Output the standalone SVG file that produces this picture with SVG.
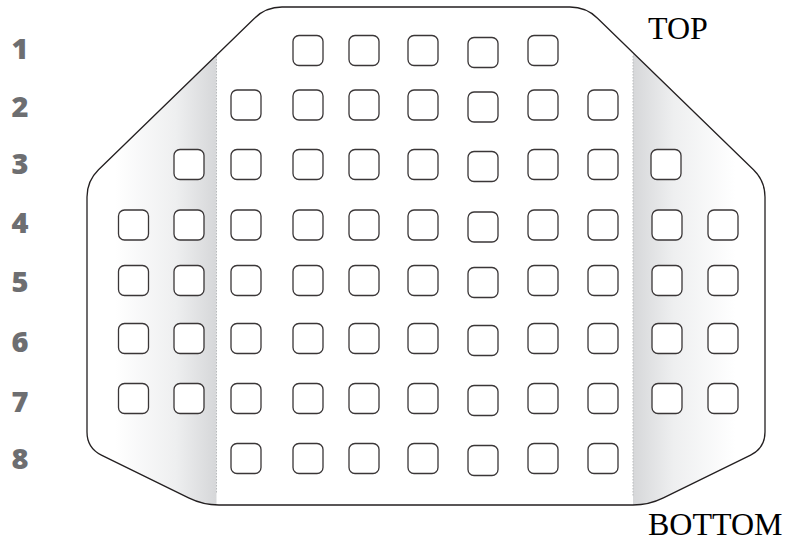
<svg xmlns="http://www.w3.org/2000/svg" width="791" height="542" viewBox="0 0 791 542">
<style>
.cell{fill:#fff;stroke:#3a3637;stroke-width:1.3}
.num{font-family:"Open Sans","DejaVu Sans",sans-serif;font-weight:800;font-size:29px;fill:#6d6e71;text-anchor:middle}
.lbl{font-family:"Liberation Serif","Times New Roman",serif;font-size:32px;fill:#000}
.dash{stroke:#b8babc;stroke-width:1;stroke-dasharray:1.5 1.5;fill:none}
</style>
<defs>
<path id="outline" d="M282,7 L570,7 Q586,7 597.5,18.2 L753.5,169.8 Q765,181 765,197 L765,432 Q765,448 750.6,455.1 L663.4,497.9 Q649,505 633,505 L219,505 Q203,505 188.6,497.9 L101.4,455.1 Q87,448 87,432 L87,197 Q87,181 98.5,169.8 L254.5,18.2 Q266,7 282,7 Z"/>
<clipPath id="clip"><use href="#outline"/></clipPath>
<linearGradient id="gl" gradientUnits="userSpaceOnUse" x1="115" y1="0" x2="216" y2="0">
<stop offset="0" stop-color="#ffffff"/>
<stop offset="0.6" stop-color="#eeeff0"/>
<stop offset="1" stop-color="#d6d7d9"/>
</linearGradient>
<linearGradient id="gr" gradientUnits="userSpaceOnUse" x1="633" y1="0" x2="735" y2="0">
<stop offset="0" stop-color="#d6d7d9"/>
<stop offset="0.4" stop-color="#eeeff0"/>
<stop offset="1" stop-color="#ffffff"/>
</linearGradient>
</defs>
<g id="plate">
<use href="#outline" fill="#fff"/>
<g clip-path="url(#clip)">
<rect x="80" y="0" width="136.5" height="542" fill="url(#gl)"/>
<rect x="633" y="0" width="140" height="542" fill="url(#gr)"/>
</g>
<line class="dash" x1="216.5" y1="56" x2="216.5" y2="493"/>
<line class="dash" x1="633" y1="56" x2="633" y2="496"/>
<use href="#outline" fill="none" stroke="#231f20" stroke-width="1.3"/>
</g>
<g id="labels">
<text class="num" x="20" y="59">1</text>
<text class="num" x="20" y="117">2</text>
<text class="num" x="20" y="174">3</text>
<text class="num" x="20" y="233">4</text>
<text class="num" x="20" y="292">5</text>
<text class="num" x="20" y="352">6</text>
<text class="num" x="20" y="412">7</text>
<text class="num" x="20" y="469">8</text>
<text class="lbl" x="648" y="39">TOP</text>
<text class="lbl" x="648" y="535">BOTTOM</text>
</g>
<g id="row1">
<rect class="cell" x="293" y="35.5" width="30" height="30" rx="6"/>
<rect class="cell" x="349" y="35.5" width="30" height="30" rx="6"/>
<rect class="cell" x="408" y="35.5" width="30" height="30" rx="6"/>
<rect class="cell" x="468" y="37.5" width="30" height="30" rx="6"/>
<rect class="cell" x="528" y="35.5" width="30" height="30" rx="6"/>
</g>
<g id="row2">
<rect class="cell" x="231" y="90" width="30" height="30" rx="6"/>
<rect class="cell" x="293" y="90" width="30" height="30" rx="6"/>
<rect class="cell" x="349" y="90" width="30" height="30" rx="6"/>
<rect class="cell" x="408" y="90" width="30" height="30" rx="6"/>
<rect class="cell" x="468" y="92" width="30" height="30" rx="6"/>
<rect class="cell" x="528" y="90" width="30" height="30" rx="6"/>
<rect class="cell" x="588" y="90" width="30" height="30" rx="6"/>
</g>
<g id="row3">
<rect class="cell" x="174" y="149.5" width="30" height="30" rx="6"/>
<rect class="cell" x="231" y="149.5" width="30" height="30" rx="6"/>
<rect class="cell" x="293" y="149.5" width="30" height="30" rx="6"/>
<rect class="cell" x="349" y="149.5" width="30" height="30" rx="6"/>
<rect class="cell" x="408" y="149.5" width="30" height="30" rx="6"/>
<rect class="cell" x="468" y="151.5" width="30" height="30" rx="6"/>
<rect class="cell" x="528" y="149.5" width="30" height="30" rx="6"/>
<rect class="cell" x="588" y="149.5" width="30" height="30" rx="6"/>
<rect class="cell" x="651" y="149.5" width="30" height="30" rx="6"/>
</g>
<g id="row4">
<rect class="cell" x="118.5" y="210" width="30" height="30" rx="6"/>
<rect class="cell" x="174" y="210" width="30" height="30" rx="6"/>
<rect class="cell" x="231" y="210" width="30" height="30" rx="6"/>
<rect class="cell" x="293" y="210" width="30" height="30" rx="6"/>
<rect class="cell" x="349" y="210" width="30" height="30" rx="6"/>
<rect class="cell" x="408" y="210" width="30" height="30" rx="6"/>
<rect class="cell" x="468" y="212" width="30" height="30" rx="6"/>
<rect class="cell" x="528" y="210" width="30" height="30" rx="6"/>
<rect class="cell" x="588" y="210" width="30" height="30" rx="6"/>
<rect class="cell" x="652" y="210" width="30" height="30" rx="6"/>
<rect class="cell" x="708" y="210" width="30" height="30" rx="6"/>
</g>
<g id="row5">
<rect class="cell" x="118.5" y="265.5" width="30" height="30" rx="6"/>
<rect class="cell" x="174" y="265.5" width="30" height="30" rx="6"/>
<rect class="cell" x="231" y="265.5" width="30" height="30" rx="6"/>
<rect class="cell" x="293" y="265.5" width="30" height="30" rx="6"/>
<rect class="cell" x="349" y="265.5" width="30" height="30" rx="6"/>
<rect class="cell" x="408" y="265.5" width="30" height="30" rx="6"/>
<rect class="cell" x="468" y="267.5" width="30" height="30" rx="6"/>
<rect class="cell" x="528" y="265.5" width="30" height="30" rx="6"/>
<rect class="cell" x="588" y="265.5" width="30" height="30" rx="6"/>
<rect class="cell" x="652" y="265.5" width="30" height="30" rx="6"/>
<rect class="cell" x="708" y="265.5" width="30" height="30" rx="6"/>
</g>
<g id="row6">
<rect class="cell" x="118.5" y="323.5" width="30" height="30" rx="6"/>
<rect class="cell" x="174" y="323.5" width="30" height="30" rx="6"/>
<rect class="cell" x="231" y="323.5" width="30" height="30" rx="6"/>
<rect class="cell" x="293" y="323.5" width="30" height="30" rx="6"/>
<rect class="cell" x="349" y="323.5" width="30" height="30" rx="6"/>
<rect class="cell" x="408" y="323.5" width="30" height="30" rx="6"/>
<rect class="cell" x="468" y="325.5" width="30" height="30" rx="6"/>
<rect class="cell" x="528" y="323.5" width="30" height="30" rx="6"/>
<rect class="cell" x="588" y="323.5" width="30" height="30" rx="6"/>
<rect class="cell" x="652" y="323.5" width="30" height="30" rx="6"/>
<rect class="cell" x="708" y="323.5" width="30" height="30" rx="6"/>
</g>
<g id="row7">
<rect class="cell" x="118.5" y="383.5" width="30" height="30" rx="6"/>
<rect class="cell" x="174" y="383.5" width="30" height="30" rx="6"/>
<rect class="cell" x="231" y="383.5" width="30" height="30" rx="6"/>
<rect class="cell" x="293" y="383.5" width="30" height="30" rx="6"/>
<rect class="cell" x="349" y="383.5" width="30" height="30" rx="6"/>
<rect class="cell" x="408" y="383.5" width="30" height="30" rx="6"/>
<rect class="cell" x="468" y="385.5" width="30" height="30" rx="6"/>
<rect class="cell" x="528" y="383.5" width="30" height="30" rx="6"/>
<rect class="cell" x="588" y="383.5" width="30" height="30" rx="6"/>
<rect class="cell" x="652" y="383.5" width="30" height="30" rx="6"/>
<rect class="cell" x="708" y="383.5" width="30" height="30" rx="6"/>
</g>
<g id="row8">
<rect class="cell" x="231" y="443.5" width="30" height="30" rx="6"/>
<rect class="cell" x="293" y="443.5" width="30" height="30" rx="6"/>
<rect class="cell" x="349" y="443.5" width="30" height="30" rx="6"/>
<rect class="cell" x="408" y="443.5" width="30" height="30" rx="6"/>
<rect class="cell" x="468" y="445.5" width="30" height="30" rx="6"/>
<rect class="cell" x="528" y="443.5" width="30" height="30" rx="6"/>
<rect class="cell" x="588" y="443.5" width="30" height="30" rx="6"/>
</g>
</svg>
